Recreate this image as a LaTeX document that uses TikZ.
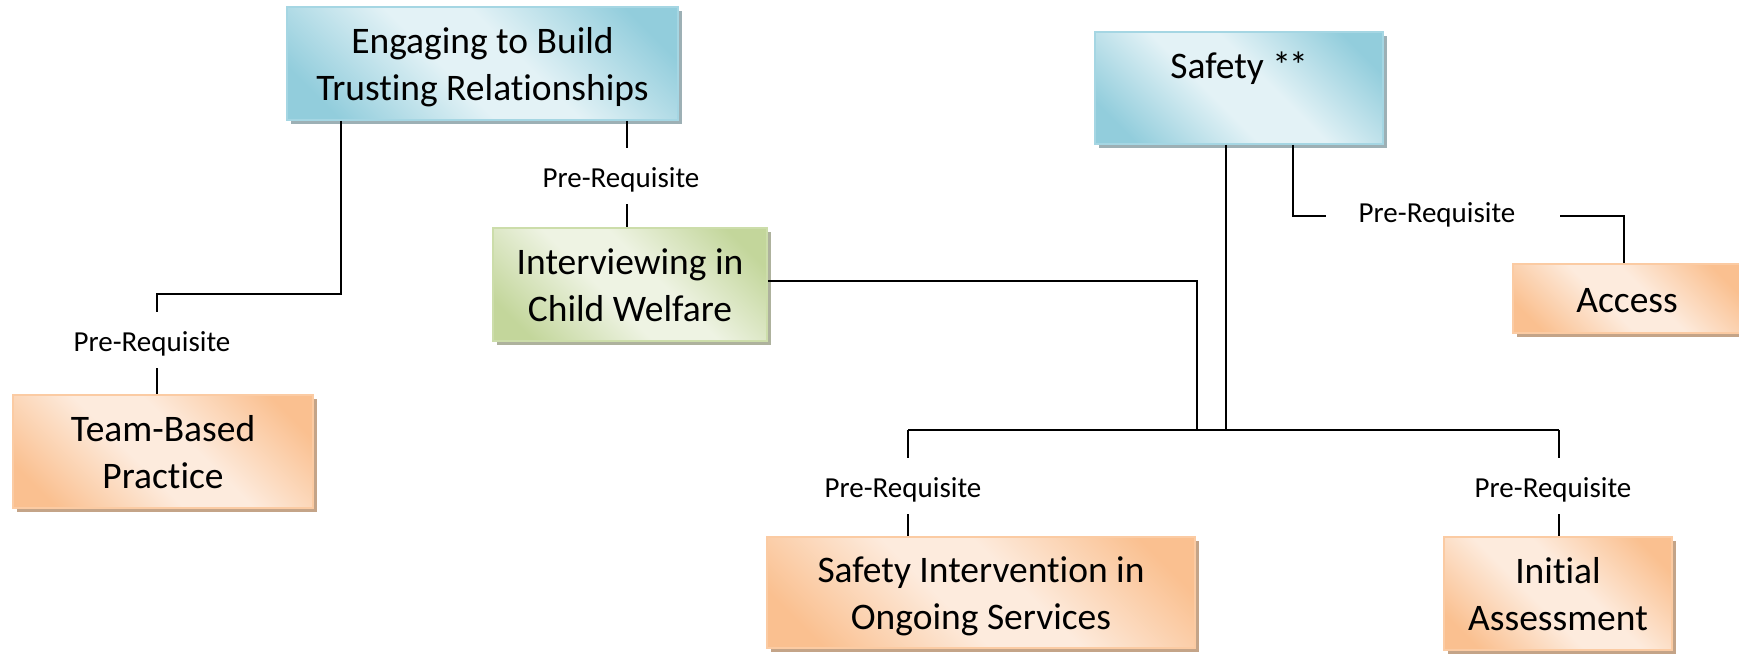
\documentclass[tikz,border=0pt]{standalone}
\usepackage{fontspec}
\setmainfont{Carlito}[Ligatures={NoCommon,NoContextual}]
\usetikzlibrary{shadows}
\definecolor{bdark}{HTML}{92CDDC}
\definecolor{blight}{HTML}{E3F2F6}
\definecolor{bborder}{HTML}{A5D6E3}
\definecolor{gdark}{HTML}{C3D69B}
\definecolor{glight}{HTML}{EEF3E3}
\definecolor{gborder}{HTML}{CCDDAA}
\definecolor{odark}{HTML}{FAC090}
\definecolor{olight}{HTML}{FDEBDD}
\definecolor{oborder}{HTML}{FBCBA3}
\definecolor{bshadow}{HTML}{9DB0B5}
\definecolor{gshadow}{HTML}{AEB29D}
\definecolor{oshadow}{HTML}{C4A488}
\pgfdeclarehorizontalshading{blueshade}{100bp}{color(0bp)=(bdark); color(22bp)=(bdark); color(44bp)=(blight); color(56bp)=(blight); color(78bp)=(bdark); color(100bp)=(bdark)}
\pgfdeclarehorizontalshading{greenshade}{100bp}{color(0bp)=(gdark); color(22bp)=(gdark); color(44bp)=(glight); color(56bp)=(glight); color(78bp)=(gdark); color(100bp)=(gdark)}
\pgfdeclarehorizontalshading{orangeshade}{100bp}{color(0bp)=(odark); color(22bp)=(odark); color(44bp)=(olight); color(56bp)=(olight); color(78bp)=(odark); color(100bp)=(odark)}
\begin{document}
\begin{tikzpicture}[x=1pt,y=-1pt,
  box/.style={rectangle, align=center, inner sep=0pt, line width=1.5pt,
    font=\fontsize{37.5}{47}\selectfont, shading angle=45},
  twoline/.style={text height=77pt, text depth=3pt},
  bluebox/.style={box, draw=bborder, shading=blueshade,
    drop shadow={shadow xshift=4pt, shadow yshift=-4pt, fill=bshadow, opacity=1}},
  greenbox/.style={box, draw=gborder, shading=greenshade,
    drop shadow={shadow xshift=4pt, shadow yshift=-4pt, fill=gshadow, opacity=1}},
  orangebox/.style={box, draw=oborder, shading=orangeshade,
    drop shadow={shadow xshift=4pt, shadow yshift=-4pt, fill=oshadow, opacity=1}},
  lab/.style={font=\fontsize{29}{35}\selectfont, inner xsep=0pt, inner ysep=15pt,
    text height=24pt, text depth=2pt},
  conn/.style={draw=black, line width=2.2pt}
]
\useasboundingbox (0,0) rectangle (1739,656);
% boxes
\node[bluebox, twoline, minimum width=391pt, minimum height=113pt] (eng) at (482.5,63.5) {Engaging to Build\\Trusting Relationships};
\node[greenbox, twoline, minimum width=274pt, minimum height=113pt] (intv) at (630,284.5) {Interviewing in\\Child Welfare};
\node[orangebox, twoline, minimum width=300pt, minimum height=113pt] (team) at (163,451.5) {Team-Based\\Practice};
\node[bluebox, minimum width=288pt, inner ysep=0pt, text height=46pt, text depth=66pt] (safe) at (1239,88) {Safety *\kern-2pt*};
\node[orangebox, minimum width=228pt, minimum height=69pt, text height=28pt, text depth=0pt] (access) at (1627,298.5) {Access};
\node[orangebox, twoline, minimum width=428pt, minimum height=111pt] (sint) at (981,592.5) {Safety Intervention in\\Ongoing Services};
\node[orangebox, twoline, minimum width=228pt, minimum height=113pt] (init) at (1558,593.5) {Initial\\Assessment};
% labels
\node[lab] (l1) at (152,340) {Pre-Requisite};
\node[lab] (l2) at (621,176) {Pre-Requisite};
\node[lab] (l3) at (903,486) {Pre-Requisite};
\node[lab] (l4) at (1437,211) {Pre-Requisite};
\node[lab] (l5) at (1553,486) {Pre-Requisite};
% bend coordinates
\coordinate (e1) at (341,294);
\coordinate (e2) at (157,294);
\coordinate (x2) at (627,0);
\coordinate (i1) at (1197,281);
\coordinate (j1) at (1197,430);
\coordinate (s1) at (1226,430);
\coordinate (h1) at (908,430);
\coordinate (h2) at (1559,430);
\coordinate (a1) at (1293,216);
\coordinate (ga) at (1326,216);
\coordinate (gb) at (1560,216);
\coordinate (a2) at (1624,216);
% connectors
\draw[conn] (eng.south -| e1) -- (e1) -- (e2) -- (e2 |- l1.north);
\draw[conn] (l1.south -| e2) -- (e2 |- team.north);
\draw[conn] (eng.south -| x2) -- (x2 |- l2.north);
\draw[conn] (l2.south -| x2) -- (x2 |- intv.north);
\draw[conn] (intv.east |- i1) -- (i1) -- (j1);
\draw[conn] (safe.south -| s1) -- (s1);
\draw[conn] (h1) -- (h2);
\draw[conn] (h1) -- (h1 |- l3.north);
\draw[conn] (l3.south -| h1) -- (h1 |- sint.north);
\draw[conn] (h2) -- (h2 |- l5.north);
\draw[conn] (l5.south -| h2) -- (h2 |- init.north);
\draw[conn] (safe.south -| a1) -- (a1) -- (ga);
\draw[conn] (gb) -- (a2) -- (access.north -| a2);
\end{tikzpicture}
\end{document}
